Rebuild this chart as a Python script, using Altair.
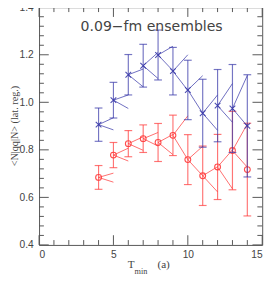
import altair as alt
import pandas as pd

# ---- data ----
T = [4, 5, 6, 7, 8, 9, 10, 11, 12, 13, 14]

blue_val = [0.906, 1.009, 1.116, 1.154, 1.199, 1.131, 1.052, 0.954, 0.986, 0.974, 0.901]
blue_err = [0.070, 0.075, 0.085, 0.090, 0.105, 0.100, 0.125, 0.143, 0.152, 0.185, 0.215]
blue_up = [0.935, 1.031, 1.140, 1.210, 1.236, 1.200, 1.112, 1.031, 1.079, 1.113]
blue_dn = [0.884, 0.974, 1.065, 1.100, 1.133, 1.050, 0.954, 0.882, 0.916, 0.900]

red_val = [0.684, 0.778, 0.826, 0.847, 0.831, 0.861, 0.759, 0.691, 0.728, 0.797, 0.717]
red_err = [0.050, 0.053, 0.055, 0.058, 0.080, 0.085, 0.105, 0.125, 0.137, 0.165, 0.195]
red_up = [0.702, 0.807, 0.855, 0.873, 0.865, 0.943, 0.815, 0.729, 0.800, 0.909]
red_dn = [0.664, 0.753, 0.798, 0.816, 0.780, 0.759, 0.691, 0.623, 0.636, 0.727]

x_major = [0, 5, 10, 15]
x_minor = [1, 2, 3, 4, 6, 7, 8, 9, 11, 12, 13, 14]
y_major = [0.4, 0.6, 0.8, 1.0, 1.2, 1.4]
y_minor = [0.44, 0.48, 0.52, 0.56, 0.64, 0.68, 0.72, 0.76, 0.84, 0.88, 0.92, 0.96,
           1.04, 1.08, 1.12, 1.16, 1.24, 1.28, 1.32, 1.36]

title_text = "0.09\u2212fm ensembles"
y_title = "<N|qq|N> (lat. reg.)"

BLUE = "#3a3aaa"
RED = "#ff3a3a"
GRAY = "#555555"
W, H = 230, 245

xscale = alt.Scale(domain=[0, 15], nice=False, zero=False)
yscale = alt.Scale(domain=[0.4, 1.4], nice=False, zero=False)
xaxis = alt.Axis(values=x_major, ticks=False, domain=False, grid=False, title=None,
                 labelFont="Liberation Sans", labelFontSize=10.5, labelColor="#444",
                 labelPadding=5, format="d")
yaxis = alt.Axis(values=y_major, ticks=False, domain=False, grid=False, title=y_title,
                 labelFont="Liberation Sans", labelFontSize=10.5, labelColor="#444",
                 labelPadding=6, format=".1f", titleFont="Liberation Serif",
                 titleFontSize=10.5, titleFontWeight="normal", titleColor="#444",
                 titleAngle=270, titleX=-25, titleY=122, titleAlign="center",
                 titleBaseline="middle")


def X(field):
    return alt.X(field, type="quantitative", scale=xscale, axis=xaxis)


def Y(field):
    return alt.Y(field, type="quantitative", scale=yscale, axis=yaxis)


def series(vals, errs):
    return pd.DataFrame({"T": T, "v": vals,
                         "lo": [v - e for v, e in zip(vals, errs)],
                         "hi": [v + e for v, e in zip(vals, errs)]})


def wedges(vals, up, dn):
    rows = []
    for t, v, u, d in zip(T[:-1], vals[:-1], up, dn):
        rows.append({"T": t, "v": v, "T2": t + 1, "e": u})
        rows.append({"T": t, "v": v, "T2": t + 1, "e": d})
    return pd.DataFrame(rows)


layers = []

# inward ticks on all sides
def ticks_x(vals, length):
    d = pd.DataFrame({"v": vals})
    b = alt.Chart(d).mark_rule(color=GRAY, strokeWidth=1).encode(
        x=X("v"), y=alt.value(H), y2=alt.value(H - length))
    t = alt.Chart(d).mark_rule(color=GRAY, strokeWidth=1).encode(
        x=X("v"), y=alt.value(0), y2=alt.value(length))
    return [b, t]


def ticks_y(vals, length):
    d = pd.DataFrame({"v": vals})
    l = alt.Chart(d).mark_rule(color=GRAY, strokeWidth=1).encode(
        y=Y("v"), x=alt.value(0), x2=alt.value(length))
    r = alt.Chart(d).mark_rule(color=GRAY, strokeWidth=1).encode(
        y=Y("v"), x=alt.value(W), x2=alt.value(W - length))
    return [l, r]


layers += ticks_x(x_major, 10) + ticks_x(x_minor, 5)
layers += ticks_y(y_major, 10) + ticks_y(y_minor, 5)

XPATH = "M-1,-1L1,1M-1,1L1,-1"

for vals, errs, up, dn, col, shape, size in [
    (red_val, red_err, red_up, red_dn, RED, "circle", 36),
    (blue_val, blue_err, blue_up, blue_dn, BLUE, XPATH, 34),
]:
    s = series(vals, errs)
    w = wedges(vals, up, dn)
    base = alt.Chart(s)
    layers.append(alt.Chart(w).mark_rule(color=col, strokeWidth=1, opacity=0.75).encode(
        x=X("T"), x2=alt.X2("T2"), y=Y("v"), y2=alt.Y2("e")))
    layers.append(base.mark_rule(color=col, strokeWidth=1.2, opacity=0.7).encode(
        x=X("T"), y=Y("lo"), y2=alt.Y2("hi")))
    layers.append(base.mark_tick(color=col, orient="horizontal", size=8, thickness=1.2,
                                 opacity=0.7).encode(x=X("T"), y=Y("lo")))
    layers.append(base.mark_tick(color=col, orient="horizontal", size=8, thickness=1.2,
                                 opacity=0.7).encode(x=X("T"), y=Y("hi")))
    layers.append(base.mark_point(shape=shape, size=size, color=col, filled=False,
                                  strokeWidth=1.1, opacity=0.9).encode(x=X("T"), y=Y("v")))

# annotation texts
ann = pd.DataFrame({"t": [title_text]})
layers.append(alt.Chart(ann).mark_text(font="DejaVu Sans", fontSize=14.5, color="#444",
                                       align="center", baseline="middle").encode(
    text="t:N", x=alt.value(116), y=alt.value(21)))

xl = pd.DataFrame({"a": ["T"], "b": ["min"], "c": ["(a)"]})
layers.append(alt.Chart(xl).mark_text(font="Liberation Serif", fontSize=11.5, color="#444",
                                      align="left", baseline="alphabetic").encode(
    text="a:N", x=alt.value(91.5), y=alt.value(269)))
layers.append(alt.Chart(xl).mark_text(font="Liberation Serif", fontSize=8.5, color="#444",
                                      align="left", baseline="alphabetic").encode(
    text="b:N", x=alt.value(98.5), y=alt.value(275)))
layers.append(alt.Chart(xl).mark_text(font="Liberation Serif", fontSize=11.5, color="#444",
                                      align="left", baseline="alphabetic").encode(
    text="c:N", x=alt.value(122), y=alt.value(269)))

chart = alt.layer(*layers).properties(
    width=W, height=H,
    padding={"left": 32, "top": -5, "right": 7, "bottom": 34},
    autosize=alt.AutoSizeParams(type="none"),
).configure_view(stroke=GRAY, strokeWidth=1)

chart.save("out.html", embed_options={"renderer": "svg", "actions": False})
